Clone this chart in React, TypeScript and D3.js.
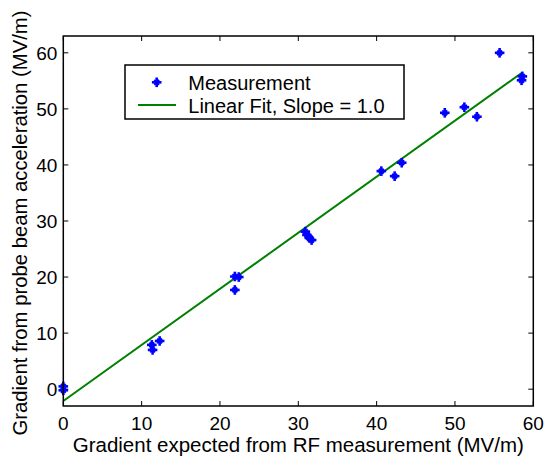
import React from "react";
import * as d3 from "d3";

const measX = [0, 0, 11.3, 11.4, 12.3, 21.9, 22.4, 21.9, 30.9, 31.1, 31.4, 31.7, 40.6, 42.3, 43.2, 48.7, 51.2, 52.8, 55.7, 58.5, 58.6];
const measY = [0.5, -0.2, 7.9, 7.0, 8.6, 20.1, 20.0, 17.7, 28.1, 27.5, 27.0, 26.6, 38.9, 38.0, 40.4, 49.3, 50.3, 48.6, 60.0, 55.1, 55.8];
const fitX = [0, 58.5];
const fitY = [-2.1, 56.4];
const xTicks = [0, 10, 20, 30, 40, 50, 60];
const yTicks = [0, 10, 20, 30, 40, 50, 60];
const xLabel = "Gradient expected from RF measurement (MV/m)";
const yLabel = "Gradient from probe beam acceleration (MV/m)";
const legendLabels = ["Measurement", "Linear Fit, Slope = 1.0"];

const W = 545, H = 458;
const L = 63.3, R = 533.3, T = 36, B = 406;
const FONT = "Arial, 'Liberation Sans', sans-serif";
const BLUE = "#0000ff";
const GREEN = "#008000";

function Star({ x, y }: { x: number; y: number }) {
  const a = 4.8, d = 2.4;
  return (
    <g stroke={BLUE} strokeLinecap="butt">
      <line x1={x - a} y1={y} x2={x + a} y2={y} strokeWidth={2.6} />
      <line x1={x} y1={y - a} x2={x} y2={y + a} strokeWidth={2.6} />
      <line x1={x - d} y1={y - d} x2={x + d} y2={y + d} strokeWidth={2} />
      <line x1={x - d} y1={y + d} x2={x + d} y2={y - d} strokeWidth={2} />
    </g>
  );
}

export default function App() {
  const x = d3.scaleLinear().domain([0, 60]).range([L, R]);
  const y = d3.scaleLinear().domain([-3, 63]).range([B, T]);
  const line = d3
    .line<number>()
    .x((_, i) => x(fitX[i]))
    .y((d) => y(d));
  const tl = 5;
  return (
    <svg width={W} height={H} style={{ position: "absolute", left: 0, top: 0, background: "#fff" }}>
      <rect x={0} y={0} width={W} height={H} fill="#fff" />
      <g stroke="#000" strokeWidth={1}>
        {xTicks.map((t) => (
          <g key={"x" + t}>
            <line x1={x(t)} x2={x(t)} y1={B} y2={B - tl} />
            <line x1={x(t)} x2={x(t)} y1={T} y2={T + tl} />
          </g>
        ))}
        {yTicks.map((t) => (
          <g key={"y" + t}>
            <line x1={L} x2={L + tl} y1={y(t)} y2={y(t)} />
            <line x1={R} x2={R - tl} y1={y(t)} y2={y(t)} />
          </g>
        ))}
      </g>
      <path d={line(fitY) || ""} fill="none" stroke={GREEN} strokeWidth={2} />
      {measX.map((v, i) => (
        <Star key={i} x={x(v)} y={y(measY[i])} />
      ))}
      <rect x={L} y={T} width={R - L} height={B - T} fill="none" stroke="#000" strokeWidth={1.5} />
      <g fontFamily={FONT} fontSize={19} fill="#000">
        {xTicks.map((t) => (
          <text key={"xl" + t} x={x(t)} y={430} textAnchor="middle">
            {t}
          </text>
        ))}
        {yTicks.map((t) => (
          <text key={"yl" + t} x={L - 6} y={y(t) + 7} textAnchor="end">
            {t}
          </text>
        ))}
      </g>
      <text x={(L + R) / 2} y={452} textAnchor="middle" fontFamily={FONT} fontSize={20.5} fill="#000">
        {xLabel}
      </text>
      <text
        transform={`translate(27,${(T + B) / 2 + 2}) rotate(-90)`}
        textAnchor="middle"
        fontFamily={FONT}
        fontSize={20.3}
        fill="#000"
      >
        {yLabel}
      </text>
      <rect x={125} y={65} width={279} height={54} fill="#fff" stroke="#000" strokeWidth={1.5} />
      <Star x={156.7} y={82.3} />
      <line x1={138} x2={176} y1={105} y2={105} stroke={GREEN} strokeWidth={2} />
      <g fontFamily={FONT} fontSize={20} fill="#000">
        <text x={188.3} y={89.5}>{legendLabels[0]}</text>
        <text x={188.3} y={112.5}>{legendLabels[1]}</text>
      </g>
    </svg>
  );
}
